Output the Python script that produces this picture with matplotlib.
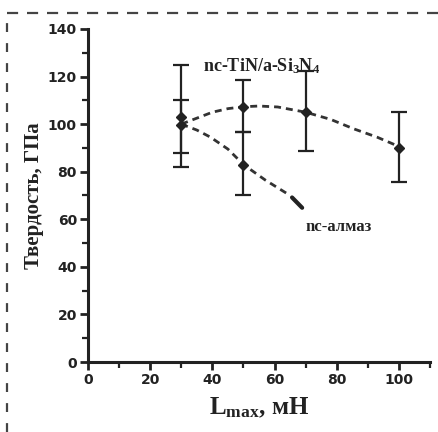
import matplotlib
matplotlib.use("Agg")
import matplotlib.pyplot as plt
from matplotlib.lines import Line2D

plt.rcParams["mathtext.fontset"] = "custom"
plt.rcParams["mathtext.rm"] = "Liberation Serif"
plt.rcParams["mathtext.bf"] = "Liberation Serif:bold"

# measured points: nc-TiN/a-Si3N4
tin_load = [30, 50, 70, 100]
tin_hard = [103, 107, 105, 90]
tin_lo = [82, 96.5, 88.5, 75.5]
tin_hi = [125, 118.5, 122.5, 105]

# nc-diamond
dia_load = [30, 50]
dia_hard = [99.5, 83]
dia_lo = [88, 70]
dia_hi = [110, 96.5]

# dashed trend lines
tin_curve_x = [30, 35, 40, 45, 50, 55, 61, 70, 78, 85.5, 93, 100]
tin_curve_y = [100, 102.5, 105, 106.5, 107.3, 107.6, 107.2, 105, 102, 98, 94.5, 90.6]
dia_curve_x = [30, 35, 39.4, 45, 50, 57, 65]
dia_curve_y = [100, 97.5, 94.5, 89.5, 83, 76.5, 70]
dia_arrow_end = (69.5, 64)

fig = plt.figure(figsize=(4.39, 4.32), dpi=100)
ax = fig.add_axes([0.2005, 0.162, 0.779, 0.771])

dash = (0, (2.5, 1.8))
ax.plot(tin_curve_x, tin_curve_y, color="#333333", lw=2, linestyle=dash)
ax.plot(dia_curve_x, dia_curve_y, color="#333333", lw=2, linestyle=dash)
ax.annotate("", xy=dia_arrow_end, xytext=(dia_curve_x[-1], dia_curve_y[-1]),
            arrowprops=dict(arrowstyle="-", lw=3, color="#222222"))

ax.errorbar(tin_load, tin_hard,
            yerr=[[h - l for h, l in zip(tin_hard, tin_lo)],
                  [u - h for h, u in zip(tin_hard, tin_hi)]],
            fmt="D", ms=5, color="#222222", ecolor="#222222",
            elinewidth=1.6, capsize=6, capthick=1.6)
ax.errorbar(dia_load, dia_hard,
            yerr=[[h - l for h, l in zip(dia_hard, dia_lo)],
                  [u - h for h, u in zip(dia_hard, dia_hi)]],
            fmt="D", ms=5, color="#222222", ecolor="#222222",
            elinewidth=1.6, capsize=6, capthick=1.6)

ax.set_xlim(0, 110)
ax.set_ylim(0, 140)
ax.set_xticks([0, 20, 40, 60, 80, 100])
ax.set_xticks([10, 30, 50, 70, 90, 110], minor=True)
ax.set_yticks([0, 20, 40, 60, 80, 100, 120, 140])
ax.set_yticks([10, 30, 50, 70, 90, 110, 130], minor=True)
ax.spines["top"].set_visible(False)
ax.spines["right"].set_visible(False)
for s in ["left", "bottom"]:
    ax.spines[s].set_linewidth(2.2)
    ax.spines[s].set_color("#222222")
ax.tick_params(which="major", direction="out", length=6, width=2, color="#222222",
               labelsize=10, pad=2)
ax.tick_params(which="minor", direction="out", length=4, width=1.6, color="#222222")
for lab in ax.get_xticklabels() + ax.get_yticklabels():
    lab.set_fontweight("bold")
    lab.set_color("#222222")

ax.set_ylabel("Твердость, ГПа", fontsize=15, fontweight="bold",
              family="Liberation Serif", color="#222222", labelpad=3)
ax.set_xlabel(r"$\mathbf{L_{max}}$, мН", fontsize=18, fontweight="bold",
              family="Liberation Serif", color="#222222", labelpad=6)

ax.text(37, 122, r"nc-TiN/a-Si$\mathbf{_3}$N$\mathbf{_4}$", fontsize=13,
        fontweight="bold", family="Liberation Serif", color="#222222")
ax.text(70, 55, "nc-алмаз", fontsize=12, fontweight="bold",
        family="Liberation Serif", color="#222222")

# dashed frame of the scanned page
fig.add_artist(Line2D([0.016, 1.0], [0.97, 0.97], transform=fig.transFigure,
                      color="#444444", lw=1.6, linestyle=(0, (5, 4))))
fig.add_artist(Line2D([0.016, 0.016], [0.0, 0.97], transform=fig.transFigure,
                      color="#444444", lw=1.6, linestyle=(0, (4, 5))))

fig.savefig("out.png", dpi=100)
